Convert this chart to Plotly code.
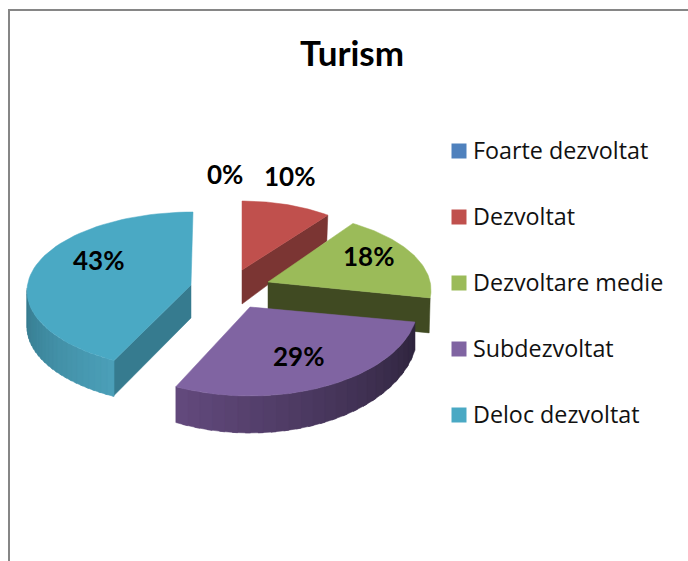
import math
import plotly.graph_objects as go

TITLE = "Turism"
categories = ["Foarte dezvoltat", "Dezvoltat", "Dezvoltare medie", "Subdezvoltat", "Deloc dezvoltat"]
values = [0, 10, 18, 29, 43]
colors = ["#4f81bd", "#c0504d", "#9bbb59", "#8064a2", "#4aa9c4"]
wall_colors = [None, "#7b3533", "#404a22", None, "#367b8f"]

# projected-pie geometry, in pixels of the 688x561 page
centers = [None, (242, 275), (268, 290), (250, 305), (193, 291)]
apexes = [None, (242, 270), (268, 282), (250, 307), (191, 285)]
radii = [None, (146, 74), (163, 78), (168, 91), (166, 79)]
angle_adjust = [None, (0, 0), (-4.6, -5), (0, 1), (3.2, 0)]
wall_depth = [None, (34, 26), (35, 35), None, (33, 36)]
wall_side = [None, "end", "end", None, "start"]
side_depth = [None, None, None, (26, 37), (36, 36)]
side_shades = [None, None, None, ("#2e243d", "#62497c"), ("#4b9fb8", "#367a8e")]
label_pos = [(225, 174), (289, 176), (368, 256), (298, 356), (98, 260)]
legend_x, legend_text_x, legend_y0, legend_step = 459, 474, 151, 66


def hex_mix(a, b, t):
    pa = [int(a[i:i + 2], 16) for i in (1, 3, 5)]
    pb = [int(b[i:i + 2], 16) for i in (1, 3, 5)]
    return "#" + "".join(f"{round(x + (y - x) * t):02x}" for x, y in zip(pa, pb))


def rim(i, deg):
    (cx, cy), (rx, ry) = centers[i], radii[i]
    r = math.radians(deg)
    return cx + rx * math.sin(r), cy - ry * math.cos(r)


def poly(xs, ys, color, name):
    return go.Scatter(x=xs + xs[:1], y=ys + ys[:1], mode="lines", fill="toself", fillcolor=color,
                      line=dict(width=0.5, color=color), showlegend=False, name=name, hoverinfo="name")


fig = go.Figure()
total = sum(values)
spans = []
acc = 0
for v in values:
    spans.append((acc / total * 360, (acc + v) / total * 360))
    acc += v

for i in [4, 1, 2, 3]:
    a0 = spans[i][0] + angle_adjust[i][0]
    a1 = spans[i][1] + angle_adjust[i][1]
    if wall_side[i]:
        deg = a1 if wall_side[i] == "end" else a0
        ax, ay = apexes[i]
        tx, ty = rim(i, deg)
        d_a, d_t = wall_depth[i]
        fig.add_trace(poly([ax, tx, tx - 1, ax], [ay, ty, ty + d_t, ay + d_a], wall_colors[i], categories[i]))
    if side_depth[i]:
        back, front = side_depth[i]
        lo, hi = a0, min(a1, 272)
        n = 24
        for k in range(n):
            t0 = lo + (hi - lo) * k / n
            t1 = lo + (hi - lo) * (k + 1.4) / n
            t1 = min(t1, hi)
            pts = [t0 + (t1 - t0) * j / 4 for j in range(5)]
            xs = [rim(i, p)[0] for p in pts]
            ys = [rim(i, p)[1] for p in pts]
            xb, yb = [], []
            for p in reversed(pts):
                dep = back + (front - back) * max(0, min(1, -math.cos(math.radians(p))))
                x, y = rim(i, p)
                xb.append(x)
                yb.append(y + dep)
            fig.add_trace(poly(xs + xb, ys + yb, hex_mix(*side_shades[i], k / (n - 1)), categories[i]))
    n = 60
    arc = [rim(i, a0 + (a1 - a0) * j / n) for j in range(n + 1)]
    ax, ay = apexes[i]
    fig.add_trace(poly([ax] + [p[0] for p in arc], [ay] + [p[1] for p in arc], colors[i], categories[i]))

fig.add_trace(go.Scatter(
    x=[legend_x] * 5, y=[legend_y0 + legend_step * k for k in range(5)],
    mode="markers", marker=dict(symbol="square", size=15, color=colors, line=dict(width=0)),
    showlegend=False, hoverinfo="skip"))
for k, c in enumerate(categories):
    fig.add_annotation(x=legend_text_x, y=legend_y0 + legend_step * k, text=c, showarrow=False,
                       xanchor="left", yanchor="middle", xshift=-3, yshift=1,
                       font=dict(family="Open Sans", size=23.3, color="#111111"))
for v, (x, y) in zip(values, label_pos):
    fig.add_annotation(x=x, y=y, text=f"<b>{v}%</b>", showarrow=False,
                       font=dict(family="Lato", size=26, color="#000000"))

fig.update_layout(
    width=688, height=561, margin=dict(l=0, r=0, t=0, b=0), autosize=False,
    paper_bgcolor="white", plot_bgcolor="white", showlegend=False,
    title=dict(text=f"<b>{TITLE}</b>", x=352 / 688, y=1 - 54 / 561, xanchor="center", yanchor="middle",
               font=dict(family="Lato", size=35, color="#000000")),
    xaxis=dict(range=[0, 688], visible=False, fixedrange=True),
    yaxis=dict(range=[561, 0], visible=False, fixedrange=True),
    shapes=[dict(type="path", xref="x", yref="y", path="M 9 561 L 9 10 L 688 10",
                 line=dict(color="#868686", width=2))],
)
fig.write_html("out.html", config=dict(displayModeBar=False),
               post_script="document.body.style.margin='0';document.documentElement.style.overflow='hidden';")
